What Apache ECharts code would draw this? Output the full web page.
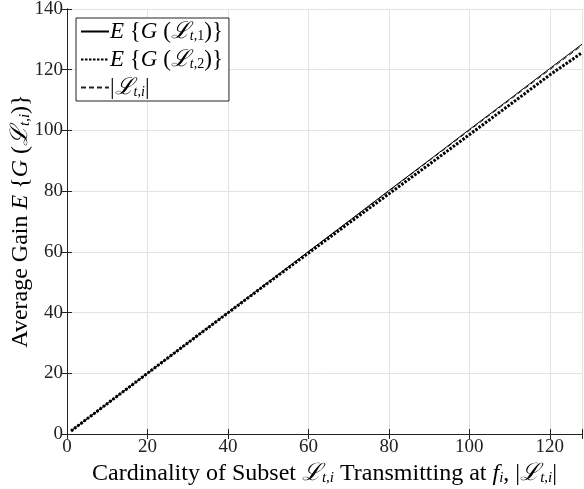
<!DOCTYPE html>
<html><head><meta charset="utf-8">
<script src="https://cdn.jsdelivr.net/npm/echarts@6/dist/echarts.min.js"></script>
<style>html,body{margin:0;padding:0;background:#fff}#c{width:584px;height:489px}</style>
</head><body><div id="c"></div>
<script>
const xVals = [1, 10, 20, 30, 40, 50, 60, 70, 80, 90, 100, 110, 120, 128];
const gainL1 = [1, 10, 20, 30, 40, 50, 60.1, 70.1, 80.2, 90.2, 100.3, 110.3, 120.4, 128.4];
const gainL2 = [1, 10, 20, 30, 39.9, 49.8, 59.6, 69.4, 79.1, 88.8, 98.6, 108.4, 118.3, 125.6];
const cardL = [1, 10, 20, 30, 40, 50, 60, 70, 80, 90, 100, 110, 120, 128];
const xTicks = [0, 20, 40, 60, 80, 100, 120];
const yTicks = [0, 20, 40, 60, 80, 100, 120, 140];
const seriesNames = ['L1', 'L2', 'L'];

const serif = 'Liberation Serif';
const pair = (xs, ys) => xs.map((x, i) => [x, ys[i]]);
function makeRich(size, subSize, drop) {
  return {
    it: {fontFamily: serif, fontStyle: 'italic', fontSize: size, fill: '#000', color: '#000'},
    n: {fontFamily: serif, fontSize: size, fill: '#000', color: '#000'},
    sub: {fontFamily: serif, fontStyle: 'italic', fontSize: subSize, fill: '#000', color: '#000', verticalAlign: 'bottom', padding: [drop, 0, 0, 0]},
    subn: {fontFamily: serif, fontSize: subSize, fill: '#000', color: '#000', verticalAlign: 'bottom', padding: [drop, 0, 0, 0]}
  };
}
const legendText = {
  L1: '{it|E} {n|{}{it|G}{n| (}{it|ℒ}{sub|t}{subn|,1}{n|)}}',
  L2: '{it|E} {n|{}{it|G}{n| (}{it|ℒ}{sub|t}{subn|,2}{n|)}}',
  L: '{n||}{it|ℒ}{sub|t}{subn|,}{sub|i}{n||}'
};
const yTitle = '{n|Average Gain }{it|E} {n|{}{it|G}{n| (}{it|ℒ}{sub|t}{subn|,}{sub|i}{n|)}}';
const chart = echarts.init(document.getElementById('c'), null, {renderer: 'canvas'});
const gridLine = {show: true, lineStyle: {color: '#e3e3e3', width: 1}};
const axLine = {show: true, lineStyle: {color: '#222', width: 1}};
const tick = {show: true, inside: true, length: 5, lineStyle: {color: '#222'}};
chart.setOption({
  animation: false,
  backgroundColor: '#fff',
  grid: {left: 67, right: 2, top: 9, bottom: 55, containLabel: false, outerBoundsMode: 'none'},
  graphic: [{
    type: 'text', x: 21, y: 221, rotation: Math.PI / 2, z: 10,
    style: {text: yTitle, rich: makeRich(24, 15, 9), align: 'center', verticalAlign: 'middle',
      fontFamily: serif, fontSize: 24, fill: '#000'}
  }],
  legend: {
    orient: 'vertical', left: 76, top: 18,
    data: seriesNames,
    formatter: n => legendText[n],
    textStyle: {rich: makeRich(23, 14, 9), fontFamily: serif, fontSize: 23, color: '#000', padding: [0, 0, 0, -4]},
    itemWidth: 28, itemHeight: 20, itemGap: 5,
    itemStyle: {opacity: 0},
    backgroundColor: '#fff', borderColor: '#222', borderWidth: 1,
    padding: [2, 6, 2, 4]
  },
  xAxis: [{
    type: 'value', min: 0, max: 128, interval: 20,
    axisLine: axLine, splitLine: gridLine, axisTick: tick,
    axisLabel: {fontFamily: serif, fontSize: 19, color: '#222', margin: 4,
      customValues: xTicks, formatter: v => String(v)},
    name: '{n|Cardinality of Subset }{it|ℒ}{sub|t}{subn|,}{sub|i}{n| Transmitting at }{it|f}{sub|i}{n|, |}{it|ℒ}{sub|t}{subn|,}{sub|i}{n||}',
    nameLocation: 'middle', nameGap: 27,
    nameTextStyle: {rich: makeRich(24, 15, 9)}
  }, {
    type: 'value', min: 0, max: 128, interval: 20, position: 'top',
    axisLine: axLine, splitLine: {show: false}, axisTick: tick,
    axisLabel: {show: false}
  }],
  yAxis: [{
    type: 'value', min: 0, max: 140, interval: 20,
    axisLine: axLine, splitLine: gridLine, axisTick: tick,
    axisLabel: {fontFamily: serif, fontSize: 19, color: '#222', margin: 4,
      customValues: yTicks, formatter: v => String(v)}
  }, {
    type: 'value', min: 0, max: 140, interval: 20, position: 'right',
    axisLine: axLine, splitLine: {show: false}, axisTick: tick,
    axisLabel: {show: false}
  }],
  series: [{
    name: 'L', type: 'line', symbol: 'none', showSymbol: false, z: 1,
    data: pair(xVals, cardL),
    itemStyle: {color: '#222'},
    lineStyle: {color: '#222', width: 1, type: [5, 3]}
  }, {
    name: 'L2', type: 'line', symbol: 'none', showSymbol: false, z: 2,
    data: pair(xVals, gainL2),
    itemStyle: {color: '#000'},
    lineStyle: {color: '#000', width: 3, type: [2.5, 1.5]}
  }, {
    name: 'L1', type: 'line', symbol: 'none', showSymbol: false, z: 3,
    data: pair(xVals, gainL1),
    itemStyle: {color: '#000'},
    lineStyle: {color: '#000', width: 1, type: 'solid'}
  }]
});
</script></body></html>
